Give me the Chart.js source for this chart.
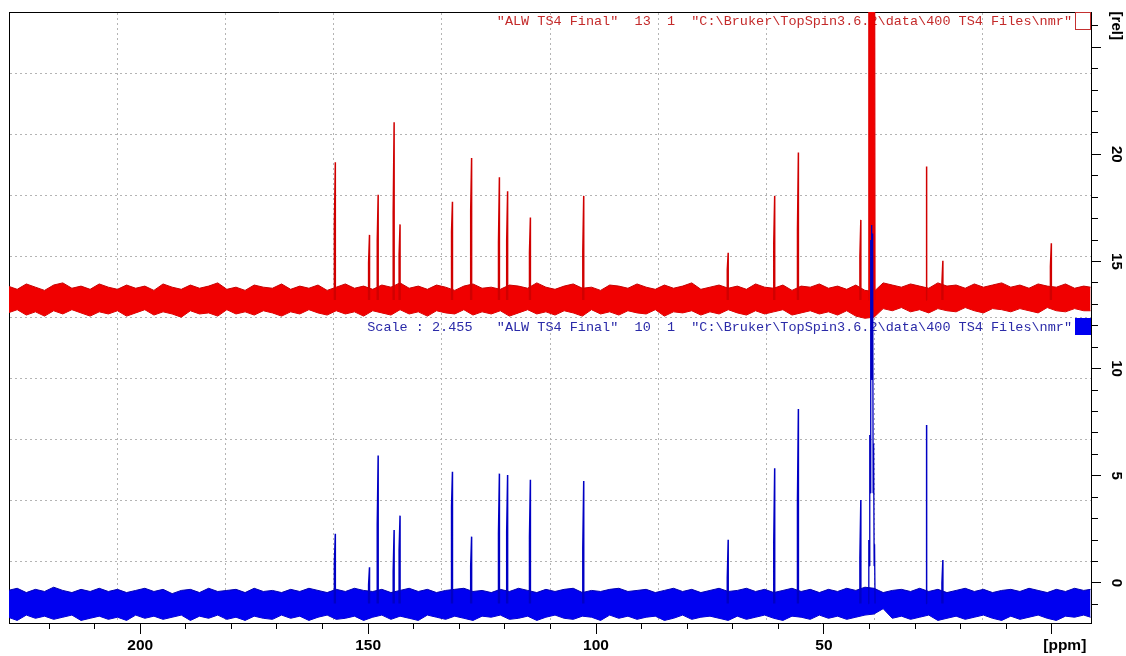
<!DOCTYPE html>
<html><head><meta charset="utf-8">
<script src="https://cdn.jsdelivr.net/npm/chart.js@4.4.1/dist/chart.umd.min.js"></script>
<style>html,body{margin:0;padding:0;background:#fff;overflow:hidden}canvas{display:block}</style>
</head><body>
<canvas id="c" width="1126" height="656"></canvas>
<script>
// ---------- data ----------
// chemical-shift positions (ppm) at which the noise envelope was estimated
const noisePpm = [229,227,225,223,221,219,217,215,213,211,209,207,205,203,201,199,197,195,193,191,189,187,185,183,181,179,177,175,173,171,169,167,165,163,161,159,157,155,153,151,149,147,145,143,141,139,137,135,133,131,129,127,125,123,121,119,117,115,113,111,109,107,105,103,101,99,97,95,93,91,89,87,85,83,81,79,77,75,73,71,69,67,65,63,61,59,57,55,53,51,49,47,45,43,41,39,37,35,33,31,29,27,25,23,21,19,17,15,13,11,9,7,5,3,1,-1,-3,-5,-7,-8.5];
// red spectrum (expno 13) noise band, upper / lower edge [rel]
const redNoiseHi = [13.85,13.70,13.95,13.80,13.65,13.90,14.00,13.75,13.85,13.70,
13.95,13.80,13.70,13.90,13.75,13.85,13.65,13.95,13.80,13.70,
13.90,13.75,13.85,14.00,13.70,13.80,13.65,13.90,13.80,13.75,
13.95,13.70,13.85,13.75,13.90,13.65,13.80,13.95,13.75,13.85,
13.70,13.90,13.80,14.00,13.75,13.85,13.70,13.90,13.80,13.65,
13.85,13.95,13.75,13.80,13.70,13.90,13.85,13.75,14.00,13.80,
13.70,13.85,13.95,13.75,13.80,13.65,13.90,13.85,13.75,13.95,
13.80,13.70,13.90,13.75,13.85,14.00,13.70,13.80,13.90,13.75,
13.85,13.70,13.95,13.80,13.75,13.90,13.65,13.85,13.80,13.95,
13.75,13.85,13.70,13.90,13.65,13.60,14.00,13.90,13.80,13.95,
13.85,13.75,14.00,13.85,13.90,13.75,13.95,13.80,13.90,14.00,
13.80,13.90,13.75,13.95,13.85,13.80,13.95,13.75,13.85,13.80];
const redNoiseLo = [12.60,12.75,12.50,12.65,12.45,12.70,12.55,12.75,12.60,12.45,
12.65,12.55,12.70,12.45,12.60,12.75,12.50,12.65,12.55,12.40,
12.70,12.55,12.60,12.45,12.75,12.55,12.65,12.50,12.70,12.60,
12.45,12.65,12.55,12.75,12.60,12.50,12.70,12.55,12.65,12.45,
12.70,12.60,12.50,12.75,12.55,12.65,12.45,12.70,12.60,12.55,
12.75,12.50,12.65,12.55,12.70,12.45,12.60,12.75,12.55,12.65,
12.50,12.70,12.60,12.45,12.75,12.55,12.65,12.50,12.70,12.60,
12.55,12.75,12.45,12.65,12.60,12.70,12.50,12.65,12.55,12.75,
12.60,12.50,12.70,12.55,12.65,12.75,12.50,12.60,12.70,12.55,
12.65,12.50,12.70,12.45,12.35,12.40,12.80,12.70,12.85,12.65,
12.75,12.60,12.80,12.70,12.65,12.85,12.70,12.60,12.80,12.75,
12.65,12.80,12.70,12.60,12.85,12.70,12.65,12.80,12.70,12.70];
// blue spectrum (expno 10) noise band
const blueNoiseHi = [-0.35,-0.25,-0.45,-0.30,-0.40,-0.20,-0.35,-0.45,-0.30,-0.40,
-0.25,-0.40,-0.30,-0.45,-0.35,-0.25,-0.40,-0.30,-0.50,-0.35,
-0.30,-0.45,-0.25,-0.40,-0.35,-0.30,-0.45,-0.25,-0.40,-0.35,
-0.45,-0.30,-0.40,-0.25,-0.35,-0.45,-0.30,-0.40,-0.25,-0.35,
-0.40,-0.30,-0.45,-0.35,-0.25,-0.40,-0.30,-0.45,-0.35,-0.30,
-0.25,-0.40,-0.35,-0.45,-0.30,-0.40,-0.25,-0.35,-0.45,-0.30,
-0.40,-0.30,-0.25,-0.45,-0.35,-0.40,-0.30,-0.25,-0.40,-0.35,
-0.30,-0.45,-0.35,-0.25,-0.40,-0.30,-0.45,-0.35,-0.25,-0.40,
-0.35,-0.25,-0.40,-0.30,-0.45,-0.35,-0.25,-0.40,-0.30,-0.45,
-0.30,-0.40,-0.25,-0.35,-0.20,-0.25,-0.45,-0.35,-0.30,-0.40,
-0.25,-0.40,-0.30,-0.45,-0.35,-0.25,-0.40,-0.30,-0.45,-0.35,
-0.30,-0.40,-0.25,-0.35,-0.45,-0.30,-0.40,-0.25,-0.35,-0.30];
const blueNoiseLo = [-1.60,-1.75,-1.50,-1.65,-1.55,-1.70,-1.60,-1.50,-1.75,-1.65,
-1.55,-1.70,-1.60,-1.75,-1.50,-1.65,-1.55,-1.70,-1.60,-1.50,
-1.75,-1.55,-1.65,-1.50,-1.70,-1.60,-1.75,-1.55,-1.65,-1.70,
-1.50,-1.65,-1.55,-1.75,-1.60,-1.50,-1.70,-1.65,-1.55,-1.75,
-1.60,-1.50,-1.70,-1.55,-1.65,-1.75,-1.50,-1.60,-1.70,-1.55,
-1.65,-1.75,-1.55,-1.60,-1.50,-1.70,-1.65,-1.55,-1.75,-1.60,
-1.50,-1.65,-1.70,-1.55,-1.60,-1.75,-1.50,-1.65,-1.55,-1.70,
-1.60,-1.55,-1.75,-1.65,-1.50,-1.70,-1.60,-1.55,-1.65,-1.75,
-1.55,-1.70,-1.60,-1.50,-1.65,-1.75,-1.55,-1.60,-1.70,-1.50,
-1.65,-1.55,-1.70,-1.60,-1.50,-1.45,-1.20,-1.65,-1.55,-1.70,
-1.60,-1.50,-1.75,-1.65,-1.55,-1.70,-1.60,-1.50,-1.65,-1.75,
-1.55,-1.70,-1.60,-1.50,-1.65,-1.75,-1.55,-1.60,-1.50,-1.60];

// red peaks: position, apex, height of the broad lower part, baseline
const redPeakPpm = [157.2,149.7,147.8,144.3,143.0,131.5,127.3,121.2,119.4,114.4,102.7,71.0,60.8,55.6,41.9,27.4,23.9,0.1];
const redPeakTop = [19.63,16.24,18.11,21.50,16.73,17.79,19.83,18.93,18.28,17.05,18.06,15.41,18.06,20.08,16.94,19.43,15.03,15.85];
const redPeakMid = [16.71,14.93,15.96,17.27,15.31,16.39,17.36,15.87,15.96,15.40,15.46,14.61,15.87,16.47,15.23,16.66,14.00,14.76];
const redBase = 13.2;
// blue peaks
const bluePeakPpm = [157.2,149.7,147.8,144.3,143.0,131.5,127.3,121.2,119.4,114.4,102.7,71.0,60.8,55.6,41.9,27.4,23.9];
const bluePeakTop = [2.29,0.73,5.94,2.47,3.14,5.19,2.16,5.10,5.04,4.81,4.76,2.01,5.35,8.12,3.87,7.37,1.07];
const bluePeakMid = [0.92,-0.09,2.71,0.53,1.54,3.56,0.76,2.29,2.39,2.13,1.62,0.22,1.90,3.84,1.15,3.51,0.00];
const blueBase = -0.96;
// DMSO-d6 solvent multiplet
const solventPpm = [40.25,40.15,40.06,39.94,39.84,39.73,39.62,39.52,39.42,39.31,39.20,39.10,38.98,38.89,38.78];
const redSolvent = [13.2,32,30,45,34,60,40,70,40,60,34,45,30,32,13.2];
const blueSolvent = [-0.96,2.0,0.8,6.9,4.2,16.0,9.5,16.7,9.5,16.3,4.2,6.5,0.8,1.8,-0.96];

// axes
const xTickValues = [220,210,200,190,180,170,160,150,140,130,120,110,100,90,80,70,60,50,40,30,20,10,0];
const xMajorTicks = [200,150,100,50,0];
const xLabelledTicks = [200,150,100,50];
const xUnitLabel = '[ppm]';
const xUnitPos = -2.85;
const yTickValues = [-1,0,1,2,3,4,5,6,7,8,9,10,11,12,13,14,15,16,17,18,19,20,21,22,23,24,25,26];
const yMajorTicks = [0,5,10,15,20,25];
const yLabelledTicks = [0,5,10,15,20];
const yUnitLabel = '[rel]';
const yUnitPos = 26;
const gridDivs = [1,2,3,4,5,6,7,8,9];

const redTitle = '"ALW TS4 Final"  13  1  "C:\\Bruker\\TopSpin3.6.2\\data\\400 TS4 Files\\nmr"';
const blueTitle = 'Scale : 2.455   "ALW TS4 Final"  10  1  "C:\\Bruker\\TopSpin3.6.2\\data\\400 TS4 Files\\nmr"';

// ---------- build ----------
const xMin = -8.6, xMax = 228.8, yMin = -1.87, yMax = 26.64;

function band(vals){ return noisePpm.map((p,i)=>({x:p,y:vals[i]})); }
function peaks(ppm, top, mid, base){
  const pts = [];
  ppm.forEach((p,i)=>{
    pts.push({x:p+0.2,y:base},{x:p+0.2,y:mid[i]},{x:p,y:top[i]},{x:p,y:base},{x:p-0.01,y:null});
  });
  return pts;
}
function solvent(vals){ return solventPpm.map((p,i)=>({x:p,y:vals[i]})); }

// minor ticks are drawn shorter than major ones by fading the far part of the tick
function tickPaint(c, major, horizontal, frac, len){
  if (major) return '#000';
  const a = c.chart.chartArea; if (!a) return '#000';
  const ctx = c.chart.ctx;
  const g = horizontal ? ctx.createLinearGradient(0, a.bottom, 0, a.bottom + len)
                       : ctx.createLinearGradient(a.right, 0, a.right + len, 0);
  g.addColorStop(0, '#000'); g.addColorStop(frac, '#000');
  g.addColorStop(Math.min(1, frac + 0.01), 'rgba(0,0,0,0)'); g.addColorStop(1, 'rgba(0,0,0,0)');
  return g;
}

const titles = {
  id:'titles',
  beforeDatasetsDraw(chart){
    const {ctx, chartArea:a} = chart;
    ctx.save();
    ctx.font = '13.5px "Liberation Mono", "DejaVu Sans Mono", monospace';
    ctx.textAlign = 'right'; ctx.textBaseline = 'middle';
    ctx.fillStyle = '#c42a2a'; ctx.fillText(redTitle, a.right - 19, a.top + 9);
    ctx.fillStyle = '#2a2aa8'; ctx.fillText(blueTitle, a.right - 19, a.top + 315);
    ctx.strokeStyle = '#c43030'; ctx.lineWidth = 1;
    ctx.strokeRect(a.right - 15.5, a.top + 0.5, 15, 17);
    ctx.fillStyle = '#0000f0'; ctx.fillRect(a.right - 16, a.top + 306, 16, 17);
    ctx.restore();
  }
};

Chart.defaults.font.family = '"Liberation Sans", Arial, sans-serif';
const common = {xAxisID:'x', yAxisID:'y'};

new Chart(document.getElementById('c'), {
  type:'line',
  data:{datasets:[
    Object.assign({data:band(redNoiseHi), fill:'+1', backgroundColor:'#f00000', borderColor:'#c80000', borderWidth:1, order:5}, common),
    Object.assign({data:band(redNoiseLo), fill:false, borderColor:'#c80000', borderWidth:1, order:5}, common),
    Object.assign({data:peaks(redPeakPpm, redPeakTop, redPeakMid, redBase), fill:false, borderColor:'#d00000', borderWidth:1.5, order:4}, common),
    Object.assign({data:solvent(redSolvent), fill:{value:redBase}, backgroundColor:'#f00000', borderColor:'#e00000', borderWidth:1.2, order:4}, common),
    Object.assign({data:band(blueNoiseHi), fill:'+1', backgroundColor:'#0000f0', borderColor:'#0000b0', borderWidth:1, order:2}, common),
    Object.assign({data:band(blueNoiseLo), fill:false, borderColor:'#0000b0', borderWidth:1, order:2}, common),
    Object.assign({data:peaks(bluePeakPpm, bluePeakTop, bluePeakMid, blueBase), fill:false, borderColor:'#0000c4', borderWidth:1.5, order:1}, common),
    Object.assign({data:solvent(blueSolvent), fill:false, borderColor:'#0000c0', borderWidth:1.3, order:1}, common)
  ]},
  options:{
    responsive:false, animation:false, events:[], devicePixelRatio:1,
    layout:{padding:{left:9, top:12, right:0, bottom:0}},
    elements:{point:{radius:0}, line:{tension:0, borderJoinStyle:'bevel'}},
    plugins:{legend:{display:false}, tooltip:{enabled:false}},
    scales:{
      x:{type:'linear', axis:'x', position:'bottom', reverse:true, min:xMin, max:xMax,
        afterBuildTicks:s=>{ s.ticks = xTickValues.concat([xUnitPos]).map(v=>({value:v})); },
        afterFit:s=>{ s.height = 33; },
        ticks:{autoSkip:false, minRotation:0, maxRotation:0, padding:2, color:'#000', font:{size:15.5, weight:'bold'},
          callback:v=> v===xUnitPos ? xUnitLabel : (xLabelledTicks.includes(v) ? String(v) : '')},
        grid:{drawOnChartArea:false, tickLength:11, tickWidth:1,
          tickColor:c=> (c.tick && c.tick.value===xUnitPos) ? 'rgba(0,0,0,0)'
                      : tickPaint(c, c.tick && xMajorTicks.includes(c.tick.value), true, 6/11, 11)},
        border:{display:true, color:'#000', width:1}
      },
      y:{type:'linear', axis:'y', position:'right', min:yMin, max:yMax,
        afterBuildTicks:s=>{ s.ticks = yTickValues.map(v=>({value:v})); },
        afterFit:s=>{ s.width = 35; },
        ticks:{autoSkip:false, minRotation:-90, maxRotation:-90, crossAlign:'center', padding:1, color:'#000', font:{size:15, weight:'bold'},
          callback:v=> v===yUnitPos ? yUnitLabel : (yLabelledTicks.includes(v) ? String(v) : '')},
        grid:{drawOnChartArea:false, tickLength:10, tickWidth:1,
          tickColor:c=> tickPaint(c, c.tick && yMajorTicks.includes(c.tick.value), false, 0.7, 10)},
        border:{display:true, color:'#000', width:1}
      },
      gx:{type:'linear', axis:'x', position:'top', min:0, max:10,
        afterBuildTicks:s=>{ s.ticks = gridDivs.map(v=>({value:v})); },
        afterFit:s=>{ s.height = 0; },
        ticks:{display:false},
        grid:{drawTicks:false, color:'#b4b4b4', lineWidth:1},
        border:{display:true, color:'#000', width:1, dash:[2,3]}
      },
      gy:{type:'linear', axis:'y', position:'left', min:0, max:10,
        afterBuildTicks:s=>{ s.ticks = gridDivs.map(v=>({value:v})); },
        afterFit:s=>{ s.width = 0; },
        ticks:{display:false},
        grid:{drawTicks:false, color:'#b4b4b4', lineWidth:1},
        border:{display:true, color:'#000', width:1, dash:[2,3]}
      }
    }
  },
  plugins:[titles]
});
</script>
</body></html>
